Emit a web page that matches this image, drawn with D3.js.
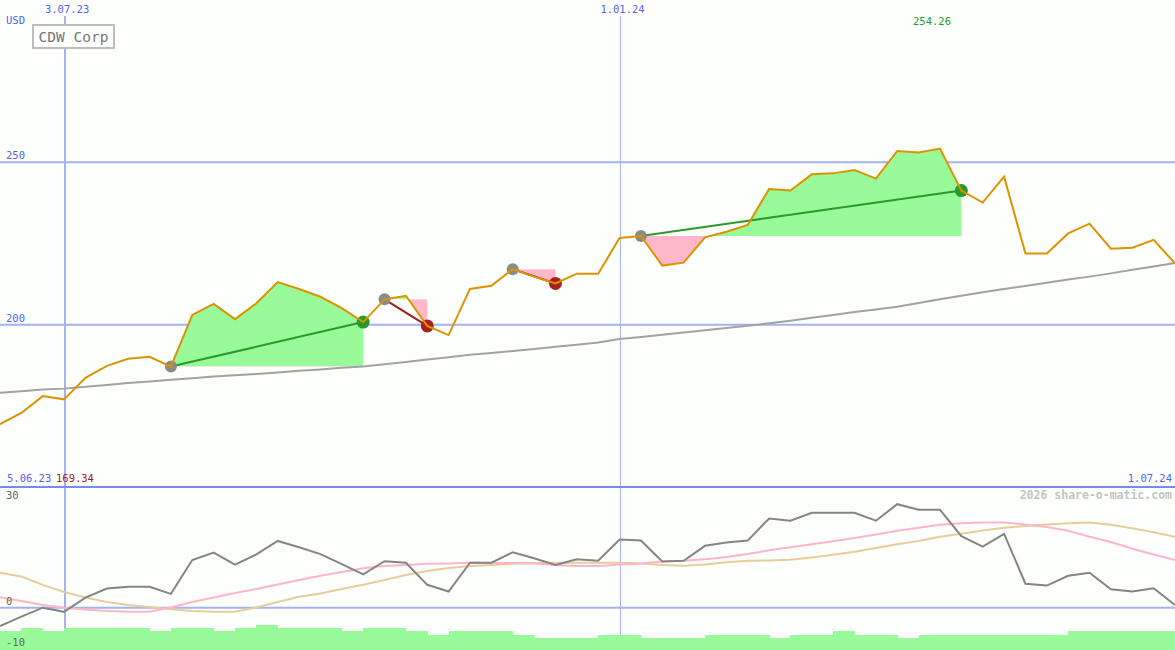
<!DOCTYPE html>
<html><head><meta charset="utf-8">
<script src="https://cdn.jsdelivr.net/npm/d3@7"></script>
<style>body{margin:0;background:#fcfffc}svg{display:block}</style>
</head><body><svg id="c" width="1175" height="650"></svg>
<script>
// ---- data ----
const startDate = "2023-06-12";
const title = "CDW Corp";
const currency = "USD";
const price = [169.34,172.8,178.0,177.0,183.6,187.3,189.5,190.1,187.1,203.0,
  206.4,201.7,206.6,213.1,211.0,208.6,205.1,200.8,207.8,208.9,
  199.6,196.8,211.0,212.0,217.1,214.8,212.7,215.7,215.7,226.7,
  227.3,218.2,219.1,226.9,228.6,230.7,241.8,241.3,246.3,246.6,
  247.6,245.0,253.5,253.0,254.26,241.3,237.6,245.6,221.9,221.9,
  228.1,231.1,223.4,223.7,226.1,218.9];
const movingAvg = [179.0,179.5,180.0,180.3,180.9,181.4,182.0,182.5,183.0,183.5,
  184.0,184.4,184.8,185.3,185.8,186.2,186.7,187.1,187.8,188.5,
  189.3,190.0,190.7,191.3,191.9,192.5,193.2,193.8,194.5,195.6,
  196.2,196.9,197.6,198.3,199.0,199.7,200.4,201.2,202.1,203.0,
  203.9,204.7,205.5,206.7,207.8,208.9,210.0,211.0,211.9,212.9,
  213.9,214.8,215.8,216.9,217.9,219.0];
const oscGray = [-4.9,-2.4,0.0,-1.1,2.7,5.1,5.6,5.6,3.7,12.7,
  14.7,11.5,14.2,17.8,16.1,14.3,11.6,8.9,12.4,12.0,
  6.1,4.3,12.0,12.0,14.8,13.2,11.4,12.9,12.5,18.2,
  17.9,12.3,12.5,16.5,17.4,17.9,23.8,23.2,25.3,25.3,
  25.3,23.2,27.6,26.1,26.1,19.1,16.3,19.7,6.4,5.9,
  8.5,9.3,4.9,4.3,5.2,0.7];
const oscPink = [2.8,1.8,0.7,0.0,-0.5,-0.9,-1.1,-1.1,0.05,1.5,
  2.7,3.9,5.0,6.2,7.4,8.5,9.5,10.5,11.1,11.4,
  11.7,11.8,12.0,11.9,11.9,11.8,11.4,11.1,11.1,11.5,
  11.8,12.3,12.5,12.9,13.5,14.3,15.3,16.1,16.9,17.7,
  18.6,19.5,20.5,21.3,22.1,22.5,22.7,22.7,22.2,21.5,
  20.5,18.9,17.5,15.7,14.2,12.7];
const oscTan = [9.3,8.3,6.1,4.2,2.7,1.5,0.7,0.2,-0.4,-0.9,
  -1.1,-1.1,0.05,1.5,2.9,3.8,5.0,6.1,7.4,8.7,
  9.8,10.6,11.1,11.4,11.7,11.9,12.0,12.0,12.0,12.0,
  11.8,11.4,11.2,11.5,12.1,12.5,12.6,12.8,13.4,14.1,
  14.9,15.9,16.9,17.8,18.9,19.7,20.6,21.3,21.8,22.2,
  22.5,22.7,22.1,21.2,20.1,18.9];
const volume = [475,550,475,550,550,550,550,475,550,550,
  475,550,625,550,550,550,475,550,550,475,
  375,475,475,475,375,300,300,300,375,375,
  300,300,300,375,375,375,300,375,375,475,
  375,375,300,375,375,375,375,375,375,375,
  475,475,475,475,475];
const tradeEntry = [8,18,24,30];
const tradeExit = [17,20,26,45];
const dateLines = ["2023-07-03","2024-01-01"];
const dateLabels = ["3.07.23","1.01.24"];
const dateLineWidths = [2,1];
const priceTicks = [200,250];
const oscTicks = [30,0,-10];
const firstLabel = "5.06.23", lastLabel = "1.07.24";
const credit = "2026 share-o-matic.com";

// ---- setup ----
const W = 1175, H = 650;
const svg = d3.select("#c");
const font = "'DejaVu Sans Mono', monospace";
const blue = "#5363ef", grid = "#a4b2f2";
const parse = d3.utcParse("%Y-%m-%d");
const start = parse(startDate);
const dates = price.map((_, i) => d3.utcDay.offset(start, 7 * i));
const x = d3.scaleUtc().domain([dates[0], dates[dates.length - 1]]).range([0, W]);
const yP = d3.scaleLinear().domain([150, 300]).range([487, 0]);
const yO = d3.scaleLinear().domain([-10, 30]).range([645.2, 495.2]);
const yV = d3.scaleLinear().domain([0, 1000]).range([650, 610]);

svg.append("rect").attr("width", W).attr("height", H).attr("fill", "#fcfffc");

// grid lines
const gP = svg.append("g");
priceTicks.forEach(t => {
  gP.append("line").attr("x1", 0).attr("x2", W).attr("y1", yP(t)).attr("y2", yP(t))
    .attr("stroke", grid).attr("stroke-width", 2);
  svg.append("text").attr("x", 6).attr("y", yP(t) - 3).text(t)
    .attr("fill", blue).attr("font-family", font).attr("font-size", 10.5);
});
svg.append("line").attr("x1", 0).attr("x2", W).attr("y1", yO(0)).attr("y2", yO(0))
  .attr("stroke", grid).attr("stroke-width", 2);
dateLines.forEach((d, i) => {
  const xx = Math.round(x(parse(d))) + (dateLineWidths[i] === 1 ? 0.5 : 1);
  svg.append("line").attr("x1", xx).attr("x2", xx).attr("y1", 16).attr("y2", H)
    .attr("stroke", grid).attr("stroke-width", dateLineWidths[i]);
  svg.append("text").attr("x", x(parse(d)) + 3).attr("y", 13).attr("text-anchor", "middle")
    .text(dateLabels[i]).attr("fill", blue).attr("font-family", font).attr("font-size", 10.5);
});
svg.append("line").attr("x1", 0).attr("x2", W).attr("y1", 487).attr("y2", 487)
  .attr("stroke", "#7b89ef").attr("stroke-width", 2);

// trade fills
const defs = svg.append("defs");
const tradesG = svg.append("g");
tradeEntry.forEach((e, k) => {
  const xEnd = tradeExit[k];
  const base = price[e];
  const idx = d3.range(e, xEnd + 1);
  const area = d3.area().x(i => x(dates[i])).y0(yP(base)).y1(i => yP(price[i]));
  defs.append("clipPath").attr("id", "up" + k).append("rect")
    .attr("x", 0).attr("y", 0).attr("width", W).attr("height", yP(base));
  defs.append("clipPath").attr("id", "dn" + k).append("rect")
    .attr("x", 0).attr("y", yP(base)).attr("width", W).attr("height", 487 - yP(base));
  tradesG.append("path").attr("d", area(idx)).attr("fill", "#98fa98").attr("clip-path", `url(#up${k})`);
  tradesG.append("path").attr("d", area(idx)).attr("fill", "#ffb7c9").attr("clip-path", `url(#dn${k})`);
});

// moving average
svg.append("path").datum(movingAvg)
  .attr("d", d3.line().x((d, i) => x(dates[i])).y(d => yP(d)))
  .attr("fill", "none").attr("stroke", "#a2a2a2").attr("stroke-width", 2);

// trade lines and markers
tradeEntry.forEach((e, k) => {
  const s = tradeExit[k];
  const win = price[s] > price[e];
  svg.append("line").attr("x1", x(dates[e])).attr("y1", yP(price[e]))
    .attr("x2", x(dates[s])).attr("y2", yP(price[s]))
    .attr("stroke", win ? "#2a9a2a" : "#a31c1c").attr("stroke-width", 2);
  svg.append("circle").attr("cx", x(dates[e])).attr("cy", yP(price[e])).attr("r", 6)
    .attr("fill", "#8a8a8a");
  svg.append("circle").attr("cx", x(dates[s])).attr("cy", yP(price[s])).attr("r", 6.5)
    .attr("fill", win ? "#2a9a2a" : "#a82020");
});

// price line
svg.append("path").datum(price)
  .attr("d", d3.line().x((d, i) => x(dates[i])).y(d => yP(d)))
  .attr("fill", "none").attr("stroke", "#dc9300").attr("stroke-width", 2);

// labels top
svg.append("text").attr("x", 6).attr("y", 24).text(currency)
  .attr("fill", blue).attr("font-family", font).attr("font-size", 10.5);
svg.append("rect").attr("x", 33).attr("y", 25).attr("width", 81).attr("height", 23)
  .attr("fill", "#fcfffc").attr("stroke", "#bdbdbd").attr("stroke-width", 2);
svg.append("text").attr("x", 73.5).attr("y", 42).attr("text-anchor", "middle").text(title)
  .attr("fill", "#777").attr("font-family", font).attr("font-size", 14.5);
const maxI = d3.maxIndex(price), minI = d3.minIndex(price);
svg.append("text").attr("x", x(dates[maxI]) - 8).attr("y", 25).attr("text-anchor", "middle")
  .text(price[maxI].toFixed(2)).attr("fill", "#2a9a2a").attr("font-family", font).attr("font-size", 10.5);
svg.append("text").attr("x", 7).attr("y", 482).text(firstLabel)
  .attr("fill", blue).attr("font-family", font).attr("font-size", 10.5);
svg.append("text").attr("x", 56).attr("y", 482).text(price[minI].toFixed(2))
  .attr("fill", "#a31c1c").attr("font-family", font).attr("font-size", 10.5);
svg.append("text").attr("x", 1172).attr("y", 482).attr("text-anchor", "end").text(lastLabel)
  .attr("fill", blue).attr("font-family", font).attr("font-size", 10.5);

// volume bars
svg.append("g").selectAll("rect").data(volume).join("rect")
  .attr("x", (d, i) => x(dates[i])).attr("width", (d, i) => x(dates[i + 1]) - x(dates[i]) + 0.5)
  .attr("y", d => yV(d)).attr("height", d => H - yV(d))
  .attr("fill", "#98fa98").attr("shape-rendering", "crispEdges");

// oscillator panel
const oLine = d3.line().x((d, i) => x(dates[i])).y(d => yO(d));
svg.append("path").datum(oscTan).attr("d", oLine).attr("fill", "none")
  .attr("stroke", "#e6cd9c").attr("stroke-width", 2);
svg.append("path").datum(oscPink).attr("d", oLine).attr("fill", "none")
  .attr("stroke", "#ffb5c8").attr("stroke-width", 2);
svg.append("path").datum(oscGray).attr("d", oLine).attr("fill", "none")
  .attr("stroke", "#858585").attr("stroke-width", 2);

const oLab = { 30: 499, 0: 605, "-10": 646 };
oscTicks.forEach(t => {
  svg.append("text").attr("x", 6).attr("y", oLab[t]).text(t)
    .attr("fill", "#666").attr("font-family", font).attr("font-size", 10.5);
});
svg.append("text").attr("x", 1172).attr("y", 499).attr("text-anchor", "end").text(credit)
  .attr("fill", "#c4c4c4").attr("font-family", font).attr("font-size", 11.5).attr("font-weight", "bold");
</script></body></html>
